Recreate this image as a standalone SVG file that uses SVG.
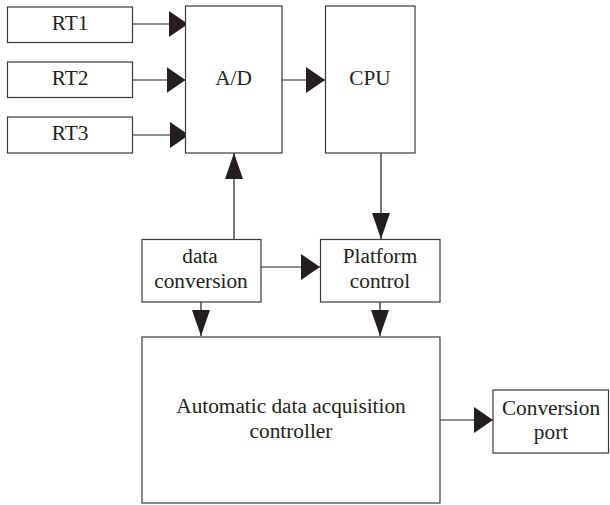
<svg xmlns="http://www.w3.org/2000/svg" width="610" height="505" viewBox="0 0 610 505">
<style>
.box{fill:#fff;stroke:#3a3a3a;stroke-width:1.2}
.t{font-family:"Liberation Serif","Times New Roman",serif;font-size:21.3px;fill:#231f20;text-anchor:middle}
.c{stroke:#231f20;stroke-width:1.2;fill:none}
</style>
<defs>
<marker id="ah" markerUnits="userSpaceOnUse" markerWidth="19" markerHeight="26" refX="19" refY="13" orient="auto" viewBox="0 0 19 26"><path d="M0,0 L19,13 L0,26 z" fill="#231f20"/></marker>
<marker id="av" markerUnits="userSpaceOnUse" markerWidth="26" markerHeight="18" refX="26" refY="9" orient="auto" viewBox="0 0 26 18"><path d="M0,0 L26,9 L0,18 z" fill="#231f20"/></marker>
</defs>
<rect width="610" height="505" fill="#fff"/>
<g id="connectors">
<line class="c" x1="132.5" y1="24" x2="188" y2="24" marker-end="url(#ah)"/>
<line class="c" x1="132.5" y1="80" x2="185.5" y2="80" marker-end="url(#ah)"/>
<line class="c" x1="132.5" y1="135" x2="189" y2="135" marker-end="url(#ah)"/>
<line class="c" x1="282" y1="80" x2="325" y2="80" marker-end="url(#ah)"/>
<line class="c" x1="234" y1="239" x2="234" y2="153" marker-end="url(#av)"/>
<line class="c" x1="381" y1="153" x2="381" y2="239" marker-end="url(#av)"/>
<line class="c" x1="261" y1="267" x2="320" y2="267" marker-end="url(#ah)"/>
<line class="c" x1="201" y1="302" x2="201" y2="336" marker-end="url(#av)"/>
<line class="c" x1="380" y1="302" x2="380" y2="336" marker-end="url(#av)"/>
<line class="c" x1="440" y1="420" x2="493" y2="420" marker-end="url(#ah)"/>
</g>
<g id="rt1"><rect class="box" x="7.5" y="7" width="125" height="35.5"/><text class="t" x="70" y="30">RT1</text></g>
<g id="rt2"><rect class="box" x="7.5" y="62" width="125" height="35.5"/><text class="t" x="70" y="85">RT2</text></g>
<g id="rt3"><rect class="box" x="7.5" y="117" width="125" height="36"/><text class="t" x="70" y="140">RT3</text></g>
<g id="ad"><rect class="box" x="185.5" y="6" width="96.5" height="147"/><text class="t" x="233.5" y="85">A/D</text></g>
<g id="cpu"><rect class="box" x="325.5" y="6" width="89.5" height="147"/><text class="t" x="370" y="85">CPU</text></g>
<g id="dataconv"><rect class="box" x="142" y="239.5" width="119" height="62.5"/><text class="t" x="200" y="263">data</text><text class="t" x="201" y="288">conversion</text></g>
<g id="platform"><rect class="box" x="320.5" y="239.5" width="119.5" height="62.5"/><text class="t" x="380" y="263">Platform</text><text class="t" x="380" y="288">control</text></g>
<g id="controller"><rect class="box" x="142" y="337" width="298" height="166"/><text class="t" x="291" y="413">Automatic data acquisition</text><text class="t" x="291" y="438">controller</text></g>
<g id="port"><rect class="box" x="493" y="390" width="115.5" height="63"/><text class="t" x="551" y="415">Conversion</text><text class="t" x="551" y="439">port</text></g>
</svg>
